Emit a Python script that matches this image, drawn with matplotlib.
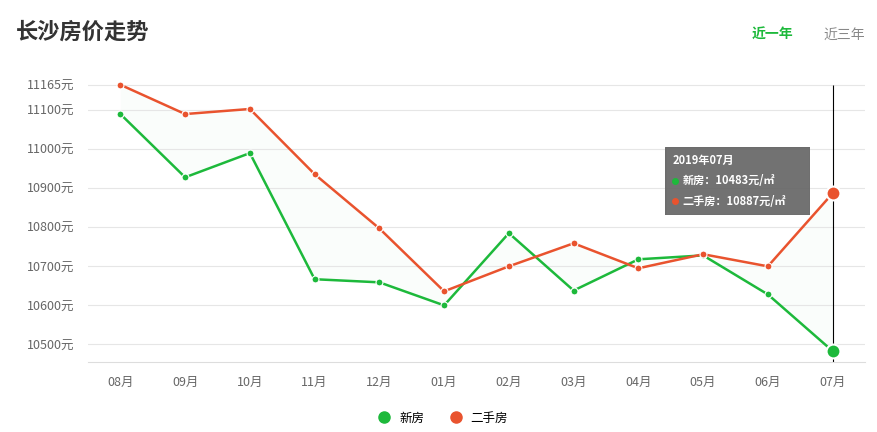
import matplotlib
matplotlib.use("Agg")
import matplotlib.pyplot as plt
from matplotlib.lines import Line2D

plt.rcParams['font.family'] = ['Noto Sans CJK SC', 'DejaVu Sans']

months = ["08月","09月","10月","11月","12月","01月","02月","03月","04月","05月","06月","07月"]
new_house = [11090,10928,10990,10667,10659,10600,10785,10638,10718,10728,10628,10483]
second_house = [11165,11090,11103,10936,10797,10636,10700,10759,10695,10731,10700,10887]
yticks = [10500,10600,10700,10800,10900,11000,11100,11165]

G = "#1db93b"; R = "#e9532e"
W, H = 878, 432
fig = plt.figure(figsize=(W/100, H/100), dpi=100)
ax = fig.add_axes([88/W, 1-362/H, (865-88)/W, (362-75)/H])
x = list(range(len(months)))
ax.fill_between(x, new_house, second_house, color=G, alpha=0.02, lw=0)
ax.plot(x, new_house, color=G, lw=1.8, marker='o', ms=5, mec='white', mew=0.8, zorder=3)
ax.plot(x, second_house, color=R, lw=1.8, marker='o', ms=5, mec='white', mew=0.8, zorder=3)
ax.plot([11], [new_house[-1]], 'o', color=G, ms=10, mec='white', mew=1.5, zorder=4)
ax.plot([11], [second_house[-1]], 'o', color=R, ms=10, mec='white', mew=1.5, zorder=4)
ax.set_xlim(-0.5, 11.5)
ax.set_ylim(10455, 11190)
ax.vlines(11, 10455, 11165, color='black', lw=0.8)
ax.set_yticks(yticks)
ax.set_yticklabels([f"{v}元" for v in yticks], color='#666', fontsize=9)
ax.set_xticks(x)
ax.set_xticklabels(months, color='#666', fontsize=9)
ax.grid(axis='y', color='#e6e6e6', lw=0.8)
for s in ax.spines.values():
    s.set_visible(False)
ax.spines['bottom'].set_visible(True); ax.spines['bottom'].set_color('#ddd')
ax.tick_params(length=0, pad=10)

fig.text(16/W, 1-32/H, "长沙房价走势", fontsize=16, fontweight='bold', color='#333', va='center')
fig.text(752/W, 1-35/H, "近一年", fontsize=10, fontweight='bold', color=G, va='center')
fig.text(823/W, 1-35/H, "近三年", fontsize=10, color='#888', va='center')

tb = fig.add_axes([665/W, 1-215/H, 145/W, 68/H])
tb.set_xlim(0,1); tb.set_ylim(0,1); tb.axis('off')
tb.add_patch(plt.Rectangle((0,0),1,1,color='#666', alpha=0.92, transform=tb.transAxes))
tb.text(0.05, 0.8, "2019年07月", color='white', fontsize=8, fontweight='bold', va='center')
tb.plot([0.07],[0.5],'o',color=G,ms=4)
tb.text(0.12, 0.5, "新房：10483元/㎡", color='white', fontsize=8, fontweight='bold', va='center')
tb.plot([0.07],[0.2],'o',color=R,ms=4)
tb.text(0.12, 0.2, "二手房：10887元/㎡", color='white', fontsize=8, fontweight='bold', va='center')

handles = [Line2D([],[],marker='o',ls='',color=G,ms=8), Line2D([],[],marker='o',ls='',color=R,ms=8)]
fig.legend(handles, ["新房","二手房"], loc='center', bbox_to_anchor=(440/W, 1-418/H), ncol=2,
           frameon=False, fontsize=9, handletextpad=0.2, columnspacing=1.5)
fig.savefig("out.png", dpi=100)
